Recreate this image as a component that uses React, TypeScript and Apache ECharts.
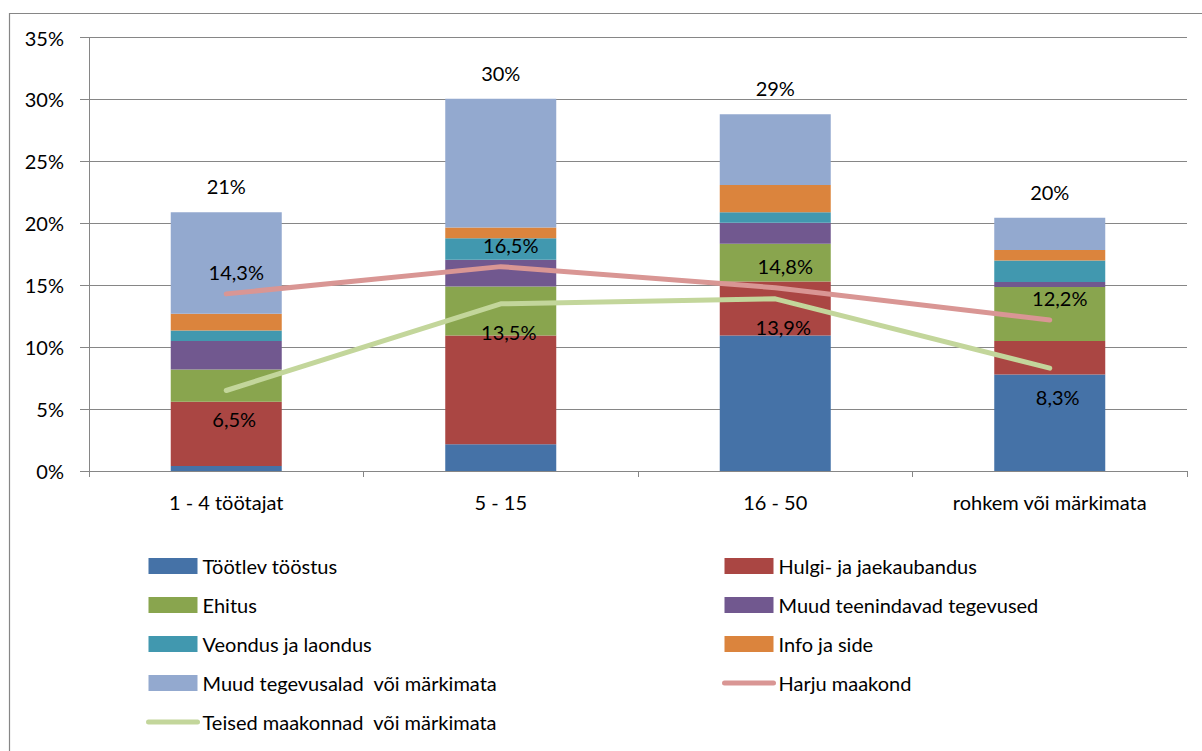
import React, { useEffect, useRef } from "react";
import * as echarts from "echarts";

const categories = ["1 - 4 töötajat", "5 - 15", "16 - 50", "rohkem või märkimata"];

const barNames = [
  "Töötlev tööstus",
  "Hulgi- ja jaekaubandus",
  "Ehitus",
  "Muud teenindavad tegevused",
  "Veondus ja laondus",
  "Info ja side",
  "Muud tegevusalad  või märkimata",
];
const barColors = ["#4572A7", "#AA4643", "#89A54E", "#71588F", "#4198AF", "#DB843D", "#93A9CF"];

const tootlev = [0.4, 2.15, 10.95, 7.8];
const hulgi = [5.2, 8.8, 4.35, 2.7];
const ehitus = [2.6, 3.95, 3.05, 4.35];
const muudTeenindavad = [2.3, 2.15, 1.7, 0.4];
const veondus = [0.85, 1.75, 0.85, 1.75];
const infoSide = [1.35, 0.85, 2.2, 0.85];
const muudTegevusalad = [8.2, 10.4, 5.7, 2.6];

const harju = [14.3, 16.5, 14.8, 12.2];
const teised = [6.5, 13.5, 13.9, 8.3];

const yTicks = { min: 0, max: 35, interval: 5 };

const barSeriesValues = [tootlev, hulgi, ehitus, muudTeenindavad, veondus, infoSide, muudTegevusalad];

const FONT = "Lato";
const FS = 20;

export default function App() {
  const ref = useRef<HTMLDivElement>(null);

  useEffect(() => {
    if (!ref.current) return;
    const chart = echarts.init(ref.current, undefined, { renderer: "svg" });

    const totals = categories.map((_, i) =>
      barSeriesValues.reduce((s, arr) => s + arr[i], 0)
    );
    const pct = (v: number) => v.toFixed(1).replace(".", ",") + "%";

    const barSeries = barNames.map((name, k) => ({
      name,
      type: "bar",
      stack: "total",
      barWidth: 111,
      data: barSeriesValues[k],
      itemStyle: { color: barColors[k] },
      z: 2,
      label:
        k === barNames.length - 1
          ? {
              show: true,
              position: "top",
              distance: 16,
              color: "#000",
              fontFamily: FONT,
              fontSize: FS,
              formatter: (p: any) => Math.round(totals[p.dataIndex]) + "%",
            }
          : { show: false },
    }));

    const legendCommon = {
      top: 556,
      orient: "vertical",
      padding: 0,
      itemWidth: 49,
      itemHeight: 16,
      itemGap: 19,
      height: 200,
      textStyle: { color: "#000", fontSize: FS, fontFamily: FONT },
    };

    const option: any = {
      animation: false,
      textStyle: { fontFamily: FONT },
      grid: { left: 89, top: 37.5, right: 15, bottom: 280 },
      xAxis: {
        type: "category",
        data: categories,
        axisLine: { lineStyle: { color: "#868686", width: 1 } },
        axisTick: { show: true, length: 6, lineStyle: { color: "#868686" } },
        axisLabel: { color: "#000", fontSize: FS, fontFamily: FONT, margin: 21 },
      },
      yAxis: {
        type: "value",
        min: yTicks.min,
        max: yTicks.max,
        interval: yTicks.interval,
        axisLine: { show: true, lineStyle: { color: "#868686", width: 1 } },
        axisTick: { show: true, length: 9, lineStyle: { color: "#868686" } },
        axisLabel: {
          color: "#000",
          fontSize: FS,
          fontFamily: FONT,
          margin: 25,
          formatter: "{value}%",
        },
        splitLine: { lineStyle: { color: "#868686", width: 1 } },
      },
      legend: [
        {
          ...legendCommon,
          left: 146,
          data: [
            { name: barNames[0], icon: "rect" },
            { name: barNames[2], icon: "rect" },
            { name: barNames[4], icon: "rect" },
            { name: barNames[6], icon: "rect" },
            {
              name: "Teised maakonnad  või märkimata",
              itemStyle: { opacity: 0 },
              lineStyle: { width: 5, cap: "round" },
            },
          ],
        },
        {
          ...legendCommon,
          left: 722,
          data: [
            { name: barNames[1], icon: "rect" },
            { name: barNames[3], icon: "rect" },
            { name: barNames[5], icon: "rect" },
            { name: "Harju maakond", itemStyle: { opacity: 0 }, lineStyle: { width: 5, cap: "round" } },
          ],
        },
      ],
      graphic: [
        {
          type: "rect",
          shape: { x: 9.5, y: 13.5, width: 1400, height: 900 },
          style: { fill: "none", stroke: "#868686", lineWidth: 1.2 },
          silent: true,
          z: 0,
        },
      ],
      series: [
        ...barSeries,
        {
          name: "Harju maakond",
          type: "line",
          data: harju,
          symbol: "circle",
          symbolSize: 1,
          z: 5,
          lineStyle: { color: "#D99694", width: 5, cap: "round", join: "round" },
          itemStyle: { color: "#D99694" },
          label: {
            show: true,
            position: "top",
            distance: 11,
            offset: [10, 0],
            color: "#000",
            fontSize: FS,
            fontFamily: FONT,
            formatter: (p: any) => pct(p.value),
          },
        },
        {
          name: "Teised maakonnad  või märkimata",
          type: "line",
          data: teised,
          symbol: "circle",
          symbolSize: 1,
          z: 5,
          lineStyle: { color: "#C3D69B", width: 5, cap: "round", join: "round" },
          itemStyle: { color: "#C3D69B" },
          label: {
            show: true,
            position: "bottom",
            distance: 18,
            offset: [8, 0],
            color: "#000",
            fontSize: FS,
            fontFamily: FONT,
            formatter: (p: any) => pct(p.value),
          },
        },
      ],
    };

    chart.setOption(option);
    return () => chart.dispose();
  }, []);

  return (
    <div
      ref={ref}
      style={{ position: "fixed", left: 0, top: 0, width: 1202, height: 751, background: "#fff" }}
    />
  );
}
